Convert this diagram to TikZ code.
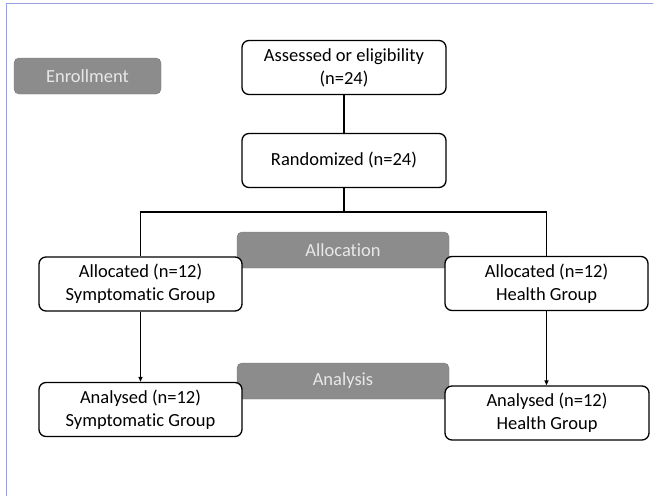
\documentclass[tikz,border=0pt]{standalone}
\usepackage{xcolor}
\usepackage{tikz}
\usepackage{fontspec}
\setmainfont{Carlito}[Ligatures=NoCommon]
\usetikzlibrary{arrows.meta}
\definecolor{frameblue}{RGB}{150,160,225}
\definecolor{phasegray}{RGB}{140,140,140}
\definecolor{phasetext}{RGB}{232,232,232}

\begin{document}
\begin{tikzpicture}[
    x=1pt, y=-1pt,
    every node/.style={font=\fontsize{18.5}{23}\selectfont},
    flowbox/.style={draw, fill=white, rounded corners=7pt, line width=1.3pt, align=center, minimum width=204pt, minimum height=54pt, inner sep=0pt},
    phase/.style={draw=phasegray!85!black, fill=phasegray, text=phasetext, rounded corners=5pt, minimum width=212pt, minimum height=36pt, inner sep=0pt},
    link/.style={line width=1.3pt},
    flow/.style={line width=1.3pt, -{Triangle[length=5pt, width=4pt]}}
]
\useasboundingbox (0,0) rectangle (653,496);
\draw[frameblue, line width=1pt] (6,496) -- (6,3) -- (653,3);

% phase labels
\node[phase, minimum width=147pt] (enroll) at (87.5,76) {Enrollment};
\node[phase] (alloc) at (343,250) {Allocation};
\node[phase] (analysis) at (343,381) {Analysis};

% boxes
\node[flowbox] (assess) at (344,67.5) {Assessed or eligibility\\(n=24)};
\node[flowbox] (random) at (344,160.5) {Randomized (n=24)};
\node[flowbox, minimum width=203pt] (allocL) at (140.5,284) {Allocated (n=12)\\Symptomatic Group};
\node[flowbox, minimum width=203pt] (allocR) at (546.5,283.5) {Allocated (n=12)\\Health Group};
\node[flowbox, minimum width=203pt] (anaL) at (140.5,409.5) {Analysed (n=12)\\Symptomatic Group};
\node[flowbox] (anaR) at (547,413) {Analysed (n=12)\\Health Group};

% connectors
\coordinate (split) at (344,212);
\draw[link] (assess) -- (random);
\draw[link] (random) -- (split);
\draw[link] (split) -| (allocL);
\draw[link] (split) -| (allocR);
\draw[flow] (allocL) -- (anaL);
\draw[flow] (allocR.south) -- (anaR.north -| allocR.south);
\end{tikzpicture}
\end{document}
